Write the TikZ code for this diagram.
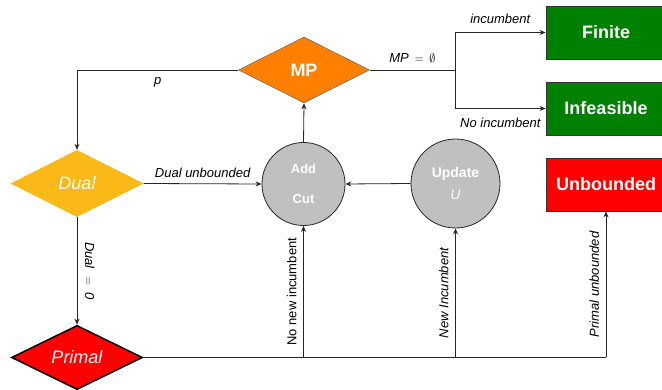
\documentclass[tikz,border=0pt]{standalone}
\usepackage{fontspec}
\setmainfont{Liberation Sans}
\usetikzlibrary{shapes.geometric,arrows.meta}
\definecolor{mporange}{HTML}{FF8000}
\definecolor{dualyel}{HTML}{FBB917}
\definecolor{pred}{HTML}{FF0000}
\definecolor{fgreen}{HTML}{008000}
\definecolor{cgray}{HTML}{C0C0C0}
\begin{document}
\begin{tikzpicture}[x=1pt,y=-1pt,
  lbl/.style={font=\fontsize{13}{15}\selectfont\itshape, text=black, inner sep=2pt},
  rlbl/.style={lbl, anchor=south, outer sep=5pt},
  arr/.style={draw=black!85, line width=0.8pt, -{Stealth[length=6pt,width=5pt]}},
  ln/.style={draw=black!85, line width=0.8pt},
  dia/.style={shape=diamond, inner sep=0pt, text=white},
  circ/.style={circle, fill=cgray, draw=black!85, line width=0.8pt, text=white, inner sep=0pt, align=center},
  endbox/.style={rectangle, draw=black!80, line width=0.8pt, text=white, font=\fontsize{18}{20}\selectfont\bfseries, minimum width=120pt, minimum height=53pt, inner sep=0pt}]
\useasboundingbox (0,0) rectangle (662,390);
\clip (0,0) rectangle (662,390);
% nodes
\node[dia, fill=mporange, draw=black!60, line width=0.5pt, minimum width=131pt, minimum height=66pt, font=\fontsize{18}{20}\selectfont\bfseries] (MP) at (304,70) {MP};
\node[dia, fill=dualyel, minimum width=133pt, minimum height=67pt, font=\fontsize{18}{20}\selectfont\itshape] (Dual) at (77,183.5) {Dual};
\node[dia, fill=pred, draw=black, line width=1.5pt, minimum width=131pt, minimum height=64pt, font=\fontsize{18}{20}\selectfont\itshape] (Primal) at (77,357.5) {Primal};
\node[circ, minimum size=83pt, font=\fontsize{13}{30}\selectfont\bfseries] (Add) at (303.5,184) {Add\\Cut};
\node[circ, minimum size=89pt, font=\fontsize{14}{22}\selectfont\bfseries] (Upd) at (455.5,183.5) {Update\\{\mdseries\itshape U}};
\node[endbox, fill=fgreen] (Fin) at (606,32.5) {Finite};
\node[endbox, fill=fgreen] (Inf) at (606,108.5) {Infeasible};
\node[endbox, fill=pred] (Unb) at (606,184.5) {Unbounded};
% helper coordinates
\coordinate (br) at (455,70);
\coordinate (j1) at (Add |- Primal.east);
\coordinate (j2) at (Upd |- Primal.east);
\coordinate (j3) at (Unb |- Primal.east);
% connectors
\draw[arr] (MP.west) -| node[lbl, pos=0.25, below=5pt] {p} (Dual.north);
\draw[ln] (MP.east) -- node[lbl, above=4pt] {MP\;\,$=$\;\,$\emptyset$} (br);
\draw[arr] (br) |- node[lbl, pos=0.75, above=6pt] {incumbent} (Fin.west);
\draw[arr] (br) |- node[lbl, pos=0.75, below=7pt] {No incumbent} (Inf.west);
\draw[arr] (Dual.east) -- node[lbl, above=4pt] {Dual unbounded} (Add.west);
\draw[arr] (Upd.west) -- (Add.east);
\draw[arr] (Add.north) -- (MP.south);
\draw[arr] (Dual.south) -- node[rlbl, rotate=-90, outer sep=6pt] {Dual \;$=$\; 0} (Primal.north);
\draw[ln] (Primal.east) -- (j3);
\draw[arr] (j1) -- node[rlbl, rotate=90, font=\fontsize{13}{15}\selectfont\upshape] {No new incumbent} (Add.south);
\draw[arr] (j2) -- node[rlbl, rotate=90] {New Incumbent} (Upd.south);
\draw[arr] (j3) -- node[rlbl, rotate=90] {Primal unbounded} (Unb.south);
\end{tikzpicture}
\end{document}
